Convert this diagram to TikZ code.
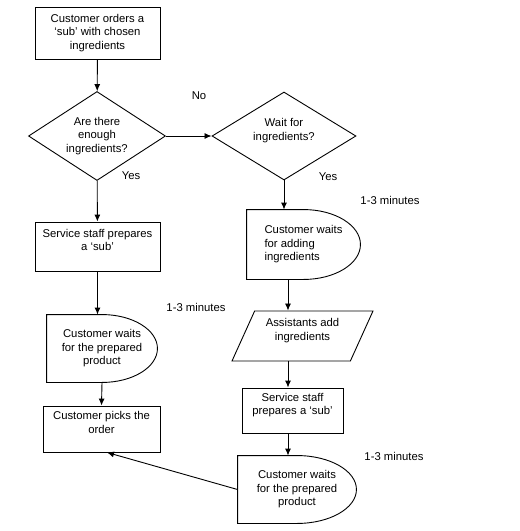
\documentclass[tikz,border=0pt]{standalone}
\usepackage{fontspec}
\setmainfont{Liberation Sans}
\usetikzlibrary{shapes.geometric,arrows.meta,calc}

% half-round "wait" outline around a node
\newcommand{\waitshape}[1]{%
    \draw (#1.north west) -- (#1.north)
        .. controls ($(#1.north)!0.552!(#1.north east)$) and ($(#1.east)!0.552!(#1.north east)$) .. (#1.east)
        .. controls ($(#1.east)!0.552!(#1.south east)$) and ($(#1.south)!0.552!(#1.south east)$) .. (#1.south)
        -- (#1.south west) -- cycle;}

\begin{document}
\begin{tikzpicture}[
    x=1pt, y=-1pt,
    line width=0.9pt,
    lbl/.style={font=\fontsize{11.3}{13.5}\selectfont},
    box/.style={
        draw,
        align=center,
        inner sep=2pt,
        font=\fontsize{11.3}{13.5}\selectfont
    },
    choice/.style={box, diamond, aspect=1.55, inner sep=0pt},
    waitbox/.style={align=center, inner sep=2pt, font=\fontsize{11.3}{13.5}\selectfont},
    inbox/.style={box, trapezium, trapezium left angle=60, trapezium right angle=120,
        trapezium stretches body=true},
    arrow/.style={->, >={Latex[length=7pt, width=6pt]}}
]
    \useasboundingbox (0,0) rectangle (520,531);

    % left column
    \node[box, minimum width=125, minimum height=52] (order) at (97.5,33) {Customer orders a\\‘sub’ with chosen\\ingredients};
    \node[choice, minimum width=137, minimum height=89] (enough) at (97,136) {Are there\\enough\\ingredients?};
    \node[box, minimum width=125, minimum height=49] (serve1) at (97.5,246.5) {Service staff prepares\\a ‘sub’\\ \mbox{}};
    \node[waitbox, minimum width=110, minimum height=67] (w1) at (102,348.5) {Customer waits\\for the prepared\\product};
    \node[box, minimum width=117, minimum height=46] (picks) at (101.5,429) {Customer picks the\\order\\ \mbox{}};

    % right column
    \node[choice, minimum width=144, minimum height=88] (wait) at (284,136) {Wait for\\ingredients?\\ \mbox{}};
    \node[waitbox, align=left, minimum width=113, minimum height=69] (w2) at (303.5,244.5) {Customer waits\\for adding\\ingredients};
    \node[inbox, minimum width=141, minimum height=50] (add) at (302.5,336) {Assistants add\\ingredients\\ \mbox{}};
    \node[box, minimum width=101, minimum height=45] (serve2) at (292.5,410.5) {Service staff\\prepares a ‘sub’\\ \mbox{}};
    \node[waitbox, minimum width=118, minimum height=67] (w3) at (297,489.5) {Customer waits\\for the prepared\\product};
    \coordinate (col) at (288,0);

    \waitshape{w1}
    \waitshape{w2}
    \waitshape{w3}

    % labels
    \node[lbl] (no) at (199,96) {No};
    \node[lbl] (yes1) at (131,176) {Yes};
    \node[lbl] (yes2) at (328,177) {Yes};
    \node[lbl] (t1) at (390,200) {1-3 minutes};
    \node[lbl] (t2) at (196,307) {1-3 minutes};
    \node[lbl] (t3) at (394,456) {1-3 minutes};

    \draw[arrow] (order) -- (enough);
    \draw[arrow] (enough) -- (wait);
    \draw[arrow] (enough) -- (serve1);
    \draw[arrow] (serve1.south) -- (serve1.south |- w1.north);
    \draw[arrow] (w1.south) -- (picks.north);
    \draw[arrow] (wait.south) -- (wait.south |- w2.north);
    \draw[arrow] (w2.south -| col) -- (add.north -| col);
    \draw[arrow] (add.south -| col) -- (serve2.north -| col);
    \draw[arrow] (serve2.south -| col) -- (w3.north -| col);
    \draw[arrow] (w3.west) -- ([xshift=5.5pt]picks.south);
\end{tikzpicture}
\end{document}
